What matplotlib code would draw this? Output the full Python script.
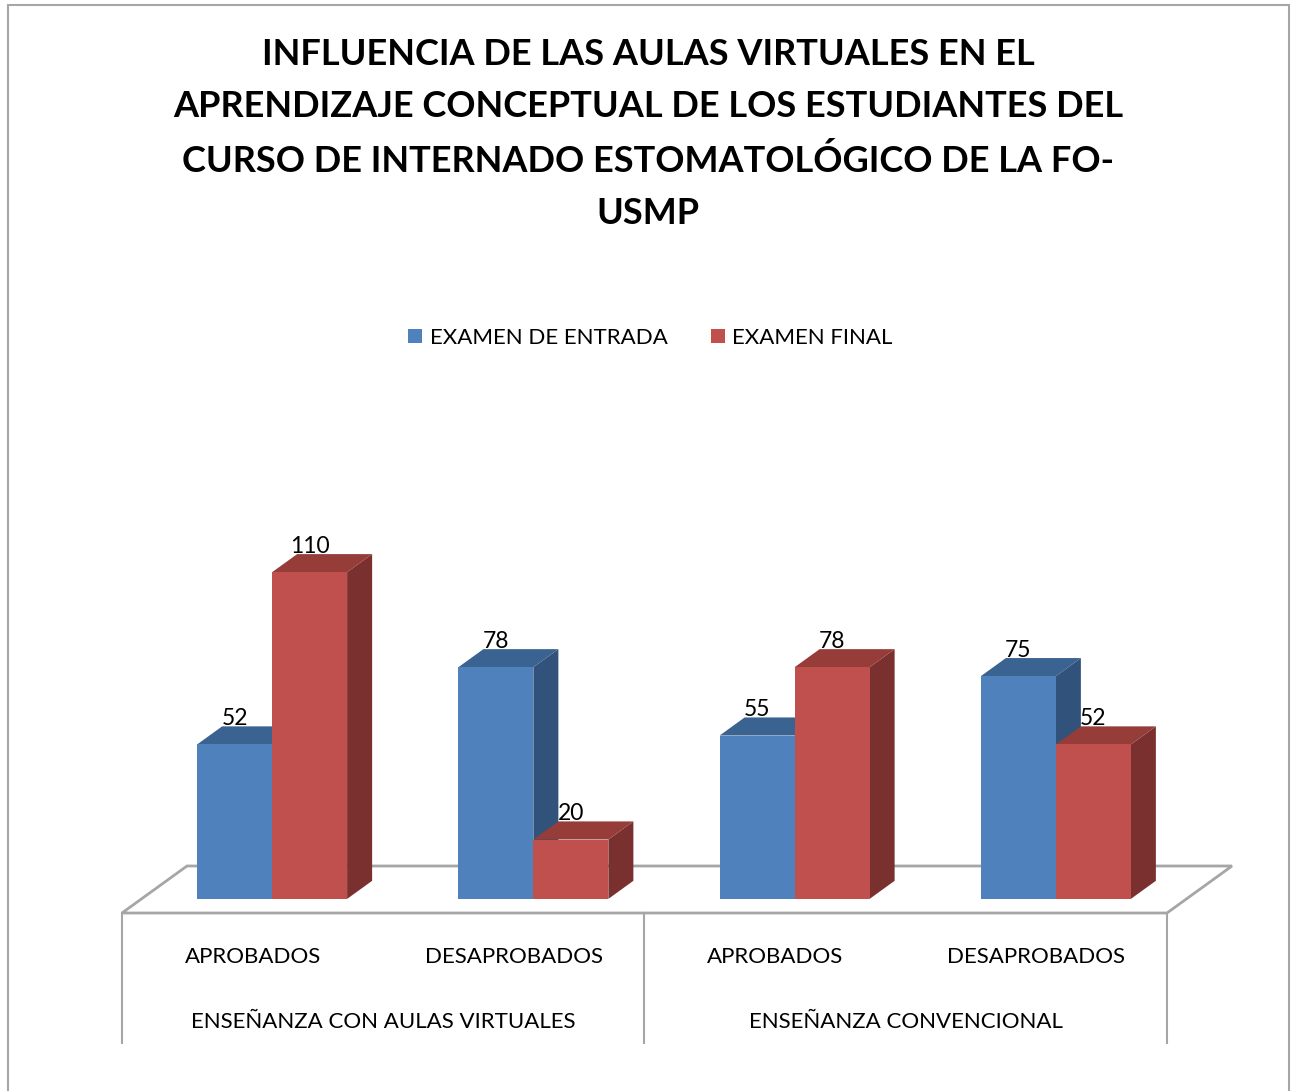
import numpy as np
import matplotlib
matplotlib.use('Agg')
from matplotlib import pyplot as plt
from matplotlib.patches import Polygon, Rectangle

plt.rcParams['font.family'] = ['Lato', 'DejaVu Sans']

title = ('INFLUENCIA DE LAS AULAS VIRTUALES EN EL\n'
         'APRENDIZAJE CONCEPTUAL DE LOS ESTUDIANTES DEL\n'
         'CURSO DE INTERNADO ESTOMATOLÓGICO DE LA FO-\n'
         'USMP')
categories = ['APROBADOS', 'DESAPROBADOS', 'APROBADOS', 'DESAPROBADOS']
groups = ['ENSEÑANZA CON AULAS VIRTUALES', 'ENSEÑANZA CONVENCIONAL']
series = ['EXAMEN DE ENTRADA', 'EXAMEN FINAL']
entrada = [52, 78, 55, 75]
final = [110, 20, 78, 52]

colors = {'front': ['#4F81BD', '#C0504D'],
          'top': ['#3A6391', '#963C39'],
          'side': ['#31527B', '#7A302E']}

W, H = 1296, 1091
fig = plt.figure(figsize=(W / 100, H / 100), dpi=100)
ax = fig.add_axes([0, 0, 1, 1])

# pixel scales -> data units
px_cat = 261.25      # pixels per category
px_val = 2.97        # pixels per value unit
x0_px, y0_px = 252.6, 913  # category 0 front floor centre
ax.set_xlim(-x0_px / px_cat, (W - x0_px) / px_cat)
ax.set_ylim(-(H - y0_px) / px_val, y0_px / px_val)
ax.axis('off')

# depth vector (full floor depth)
ddx, ddy = 65 / px_cat, 47 / px_val
d_front, d_back = 0.3, 0.685
bw = 75 / px_cat

def shift(pts, d):
    return [(x + d * ddx, y + d * ddy) for x, y in pts]

# floor
n = len(categories)
floor = [(-0.5, 0), (n - 0.5, 0), (n - 0.5 + ddx, ddy), (-0.5 + ddx, ddy)]
ax.add_patch(Polygon(floor, closed=True, facecolor='white', edgecolor='#A6A6A6', lw=2, zorder=1))

# category box lines
for xv in [-0.5, 1.5, 3.5]:
    ax.plot([xv, xv], [0, -(1043 - 913) / px_val], color='#A6A6A6', lw=1.5, zorder=1)

def bar3d(xl, val, k):
    xr = xl + bw
    front = shift([(xl, 0), (xr, 0), (xr, val), (xl, val)], d_front)
    top = shift([(xl, val), (xr, val)], d_front) + shift([(xr, val), (xl, val)], d_back)
    side = shift([(xr, 0), (xr, val)], d_front) + shift([(xr, val), (xr, 0)], d_back)
    for pts, c in [(side, colors['side'][k]), (top, colors['top'][k]), (front, colors['front'][k])]:
        ax.add_patch(Polygon(pts, closed=True, facecolor=c, edgecolor='none', zorder=2))
    cx = xl + bw / 2 + d_front * ddx
    cy = val + d_front * ddy + 26 / px_val
    ax.text(cx, cy, str(val), ha='center', va='center', fontsize=16.5, zorder=3)

for i in range(n):
    bar3d(i - bw, entrada[i], 0)
    bar3d(i, final[i], 1)
    ax.text(i, -(957 - 913) / px_val, categories[i], ha='center', va='center', fontsize=16)

for j, g in enumerate(groups):
    ax.text(2 * j + 0.5, -(1022 - 913) / px_val, g, ha='center', va='center', fontsize=16)

# legend
fig.patches.append(Rectangle((408 / W, 1 - 343 / H), 14 / W, 14 / H, transform=fig.transFigure,
                             facecolor=colors['front'][0], edgecolor='none'))
fig.text(430 / W, 1 - 338 / H, series[0], ha='left', va='center', fontsize=16)
fig.patches.append(Rectangle((711 / W, 1 - 343 / H), 14 / W, 14 / H, transform=fig.transFigure,
                             facecolor=colors['front'][1], edgecolor='none'))
fig.text(732 / W, 1 - 338 / H, series[1], ha='left', va='center', fontsize=16)

fig.text(648 / W, 1 - 134 / H, title, ha='center', va='center', fontsize=26,
         fontweight='bold', linespacing=1.72)

# outer frame
fig.patches.append(Rectangle((8 / W, -0.01), (1289 - 8) / W, 1.01 - 5 / H, transform=fig.transFigure,
                             facecolor='none', edgecolor='#A6A6A6', lw=1.5))

fig.savefig('out.png', dpi=100)
